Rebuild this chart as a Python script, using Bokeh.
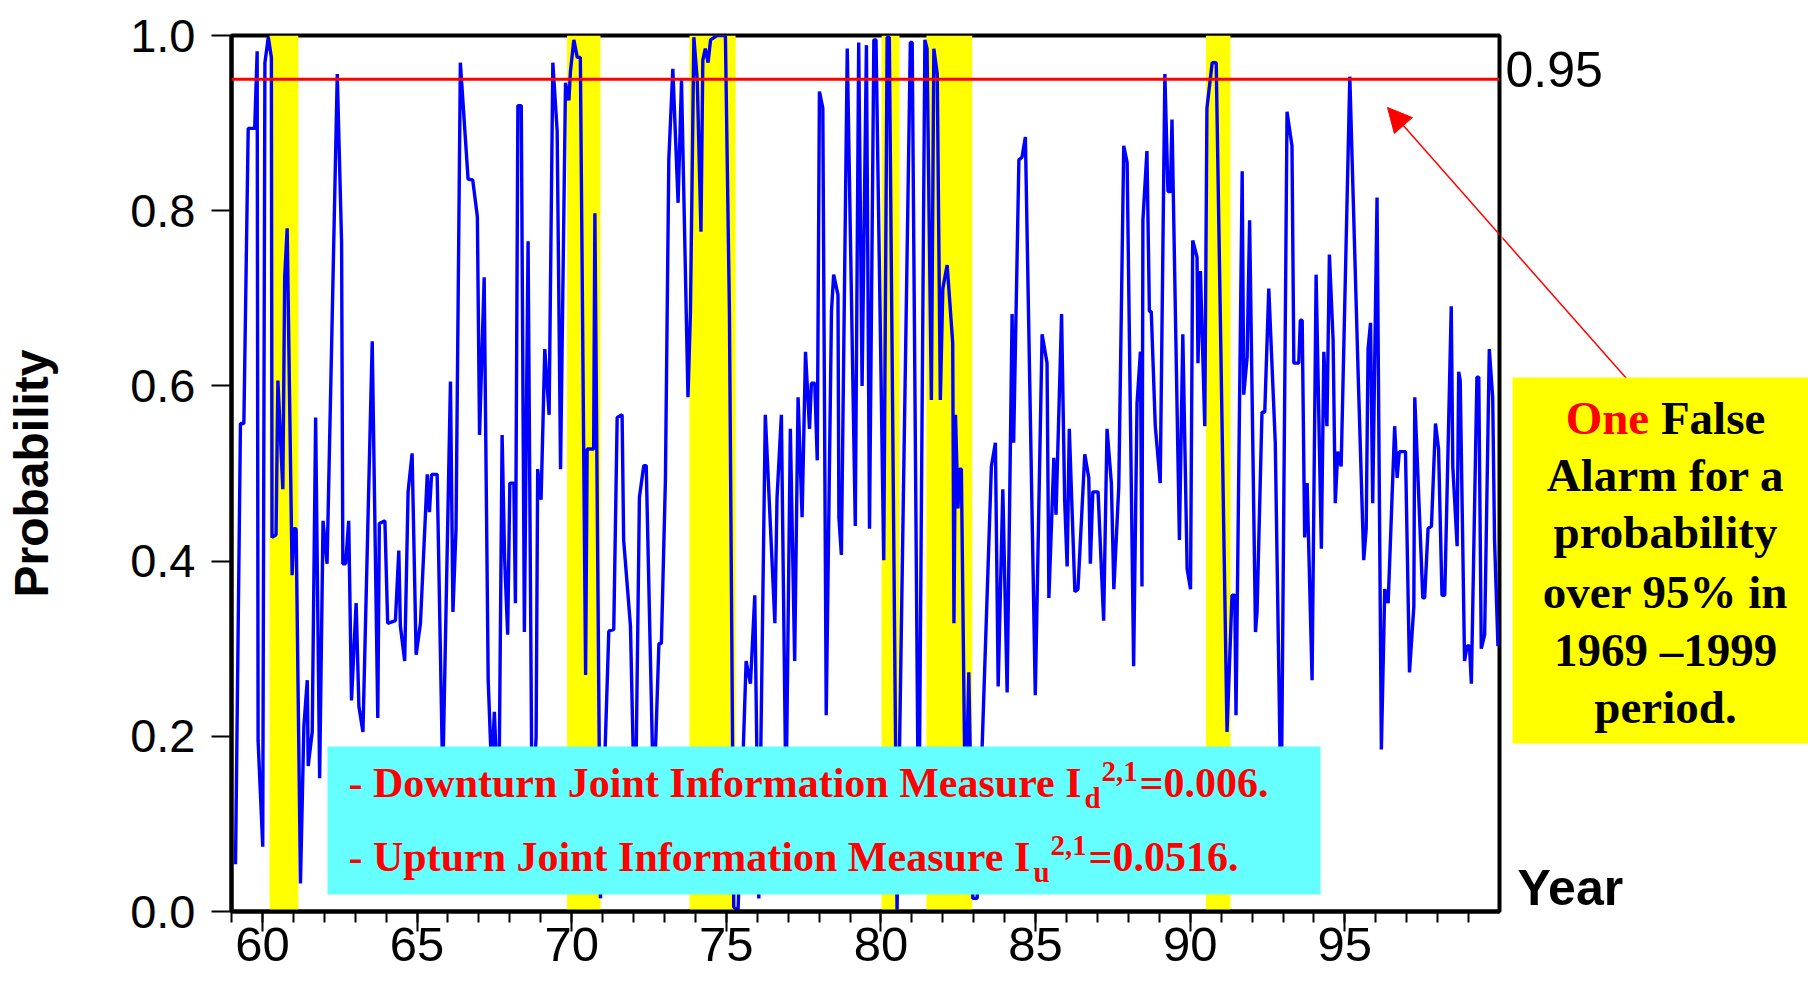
from bokeh.plotting import figure
from bokeh.layouts import row
from bokeh.models import (Range1d, FixedTicker, PrintfTickFormatter, BoxAnnotation,
                          Span, Label, Arrow, NormalHead)
from bokeh.embed import file_html
from bokeh.resources import INLINE

# ---------------- data ----------------
year = [
    59.13, 59.29, 59.40, 59.54, 59.75, 59.83, 59.86, 60.01, 60.08, 60.19,
    60.29, 60.31, 60.44, 60.50, 60.66, 60.72, 60.80, 60.96, 61.02, 61.09,
    61.23, 61.34, 61.45, 61.48, 61.61, 61.72, 61.85, 61.96, 62.09, 62.42,
    62.56, 62.60, 62.69, 62.79, 62.88, 63.03, 63.12, 63.25, 63.55, 63.73,
    63.78, 63.96, 64.05,
    64.30, 64.41, 64.46, 64.60, 64.71, 64.84, 64.97, 65.11, 65.33, 65.40,
    65.47, 65.65, 65.83, 66.08, 66.16, 66.26, 66.40, 66.65, 66.80, 66.95,
    67.02, 67.17, 67.30, 67.41, 67.50, 67.64, 67.75, 67.83, 67.93, 68.00,
    68.13, 68.18, 68.26, 68.37, 68.47, 68.59, 68.72, 68.85, 68.90, 69.01,
    69.13, 69.27,
    69.39, 69.53, 69.64, 69.80, 69.91, 69.96, 70.07, 70.18, 70.28, 70.45,
    70.50, 70.71, 70.75, 70.93, 71.20, 71.36, 71.47, 71.63, 71.68, 71.90,
    72.05, 72.19, 72.33, 72.41, 72.65, 72.82, 72.90, 73.03, 73.14, 73.27,
    73.44, 73.55, 73.76, 73.84, 73.95, 74.06, 74.18, 74.24, 74.32,
    74.41, 74.49, 74.70, 74.97, 75.10, 75.24, 75.38, 75.64, 75.78, 75.92,
    76.05, 76.26, 76.57, 76.64, 76.78, 76.93, 77.07, 77.21, 77.32, 77.45,
    77.56, 77.69, 77.75, 77.86, 77.94, 78.01, 78.12, 78.23, 78.40, 78.47,
    78.61, 78.64, 78.72, 78.91, 79.17, 79.28, 79.39, 79.53,
    79.63, 79.77, 79.84, 80.09, 80.20, 80.27, 80.52, 80.95, 81.01, 81.22,
    81.42, 81.49, 81.63, 81.71, 81.82, 81.92, 82.00, 82.14, 82.32, 82.36,
    82.41, 82.49, 82.54, 82.60, 82.73, 82.84, 82.97, 83.11, 83.57, 83.70,
    83.79, 83.94, 84.08, 84.24, 84.29, 84.46, 84.56, 84.67,
    84.99, 85.21, 85.37, 85.43, 85.59, 85.66, 85.84, 85.94, 86.02, 86.09,
    86.27, 86.37, 86.59, 86.72, 86.77, 86.85, 87.02, 87.20, 87.31, 87.45,
    87.53, 87.69, 87.85, 87.96, 88.17, 88.28, 88.39, 88.44, 88.47, 88.60,
    88.68, 88.74, 88.87, 89.03, 89.18, 89.28, 89.36, 89.41, 89.65, 89.76,
    89.90,
    90.01, 90.08, 90.22, 90.25, 90.33, 90.47, 90.54, 90.71, 90.84, 91.19,
    91.35, 91.44, 91.48, 91.68, 91.73, 91.84, 91.92, 92.11, 92.16, 92.32,
    92.41, 92.54, 92.75, 92.94, 93.13, 93.29, 93.35, 93.51, 93.56, 93.62,
    93.70, 93.78, 93.94, 94.07, 94.24, 94.32, 94.42, 94.50, 94.62, 94.69,
    94.77, 94.88, 95.16,
    95.43, 95.61, 95.69, 95.75, 95.83, 95.90, 96.04, 96.18, 96.29, 96.40,
    96.61, 96.69, 96.76, 96.96, 97.09, 97.23, 97.26, 97.52, 97.58, 97.69,
    97.80, 97.93, 98.03, 98.14, 98.23, 98.44, 98.49, 98.63, 98.68, 98.73,
    98.87, 98.95, 99.03, 99.09, 99.27, 99.33, 99.41, 99.52, 99.67, 99.78,
    99.84, 99.95,
]
prob = [
    0.054, 0.557, 0.557, 0.894, 0.894, 0.982, 0.195, 0.074, 0.969, 0.998,
    0.975, 0.427, 0.430, 0.606, 0.482, 0.724, 0.780, 0.384, 0.437, 0.437,
    0.032, 0.211, 0.264, 0.166, 0.205, 0.564, 0.152, 0.446, 0.397, 0.956,
    0.763, 0.397, 0.397, 0.446, 0.241, 0.352, 0.234, 0.205, 0.651, 0.221,
    0.443, 0.446, 0.329,
    0.332, 0.412, 0.326, 0.286, 0.479, 0.523, 0.293, 0.329, 0.499, 0.456,
    0.499, 0.499, 0.150, 0.605, 0.342, 0.437, 0.969, 0.836, 0.835, 0.793,
    0.544, 0.724, 0.264, 0.160, 0.228, 0.100, 0.544, 0.404, 0.316, 0.489,
    0.489, 0.352, 0.920, 0.920, 0.319, 0.765, 0.100, 0.200, 0.505, 0.470,
    0.642, 0.567,
    0.969, 0.891, 0.505, 0.946, 0.926, 0.959, 0.995, 0.975, 0.975, 0.270,
    0.528, 0.528, 0.797, 0.015, 0.320, 0.322, 0.564, 0.567, 0.424, 0.326,
    0.080, 0.473, 0.509, 0.509, 0.120, 0.306, 0.306, 0.492, 0.858, 0.962,
    0.809, 0.949, 0.587, 0.685, 0.998, 0.949, 0.776, 0.972, 0.985,
    0.969, 0.995, 1.000, 1.000, 0.685, 0.005, 0.002, 0.286, 0.260, 0.361,
    0.015, 0.567, 0.329, 0.473, 0.567, 0.120, 0.551, 0.286, 0.587, 0.450,
    0.639, 0.551, 0.603, 0.603, 0.515, 0.936, 0.917, 0.224, 0.685, 0.727,
    0.704, 0.450, 0.407, 0.985, 0.440, 0.992, 0.600, 0.989,
    0.437, 0.995, 0.995, 0.401, 0.998, 0.998, 0.002, 0.992, 0.992, 0.050,
    0.995, 0.985, 0.584, 0.985, 0.956, 0.584, 0.711, 0.738, 0.649, 0.329,
    0.567, 0.460, 0.505, 0.505, 0.100, 0.273, 0.015, 0.015, 0.508, 0.535,
    0.257, 0.482, 0.250, 0.682, 0.535, 0.858, 0.861, 0.884,
    0.247, 0.659, 0.626, 0.358, 0.518, 0.453, 0.682, 0.469, 0.394, 0.551,
    0.365, 0.368, 0.522, 0.495, 0.397, 0.479, 0.479, 0.332, 0.551, 0.489,
    0.368, 0.485, 0.874, 0.855, 0.280, 0.580, 0.639, 0.371, 0.789, 0.868,
    0.685, 0.685, 0.554, 0.489, 0.956, 0.822, 0.822, 0.904, 0.424, 0.659,
    0.391,
    0.368, 0.766, 0.747, 0.626, 0.731, 0.554, 0.917, 0.969, 0.969, 0.205,
    0.361, 0.361, 0.224, 0.845, 0.590, 0.633, 0.789, 0.319, 0.342, 0.570,
    0.570, 0.711, 0.535, 0.100, 0.913, 0.874, 0.626, 0.626, 0.675, 0.675,
    0.427, 0.489, 0.264, 0.727, 0.414, 0.639, 0.554, 0.750, 0.652, 0.466,
    0.525, 0.508, 0.953,
    0.613, 0.401, 0.437, 0.642, 0.672, 0.466, 0.815, 0.185, 0.368, 0.352,
    0.554, 0.495, 0.525, 0.525, 0.273, 0.348, 0.587, 0.358, 0.358, 0.437,
    0.440, 0.557, 0.528, 0.361, 0.361, 0.691, 0.508, 0.417, 0.616, 0.606,
    0.286, 0.303, 0.303, 0.260, 0.610, 0.610, 0.300, 0.316, 0.642, 0.587,
    0.424, 0.303,
]
recession_start = [60.23, 69.85, 73.81, 80.02, 81.47, 90.51]
recession_end = [61.16, 70.93, 75.30, 80.60, 82.95, 91.30]
alarm_level = 0.95
x_major_ticks = [60, 65, 70, 75, 80, 85, 90, 95]
x_minor_ticks = list(range(59, 100))
y_ticks = [0.0, 0.2, 0.4, 0.6, 0.8, 1.0]

SANS = "Liberation Sans"
SERIF = "Liberation Serif"
RED = "#FF0000"
# vertical shift that puts the alphabetic baseline where wanted (fraction of font size)
BASE_SHIFT = {SANS: 0.3465, SERIF: 0.3375}

# ---------------- main figure (frame: x 231..1499, y 35..911 on the page) ----------------
H = 983
W1 = 1502
p = figure(width=W1, height=H, x_range=Range1d(59, 100), y_range=Range1d(0, 1),
           output_backend="svg", toolbar_location=None, title=None,
           min_border_left=231, min_border_right=3,
           min_border_top=35, min_border_bottom=72)
p.xgrid.visible = False
p.ygrid.visible = False
p.outline_line_color = "black"
p.outline_line_width = 4
p.outline_line_alpha = 1.0
p.background_fill_color = "white"
p.border_fill_color = "white"

# y axis
ya = p.yaxis[0]
ya.ticker = FixedTicker(ticks=y_ticks)
ya.formatter = PrintfTickFormatter(format="%.1f")
ya.major_label_text_font = SANS
ya.major_label_text_font_size = "47px"
ya.major_label_text_color = "black"
ya.major_tick_out = 20
ya.major_tick_in = 0
ya.minor_tick_out = 0
ya.minor_tick_in = 0
ya.major_tick_line_width = 2
ya.major_tick_line_color = "black"
ya.axis_line_width = 4
ya.axis_line_color = "black"
ya.major_label_standoff = 16
ya.axis_label = "Probability"
ya.axis_label_text_font = SANS
ya.axis_label_text_font_size = "48px"
ya.axis_label_text_font_style = "bold"
ya.axis_label_text_color = "black"
ya.axis_label_standoff = 69

# x axis
xa = p.xaxis[0]
xa.ticker = FixedTicker(ticks=x_major_ticks, minor_ticks=x_minor_ticks)
xa.major_label_text_font = SANS
xa.major_label_text_font_size = "49px"
xa.major_label_text_color = "black"
xa.major_tick_out = 20
xa.major_tick_in = 0
xa.minor_tick_out = 11
xa.minor_tick_in = 0
xa.major_tick_line_width = 2
xa.minor_tick_line_width = 2
xa.major_tick_line_color = "black"
xa.minor_tick_line_color = "black"
xa.axis_line_width = 4
xa.axis_line_color = "black"
xa.major_label_standoff = -4

# recession bands
for s, e in zip(recession_start, recession_end):
    p.add_layout(BoxAnnotation(left=s, right=e, fill_color="#FFFF00", fill_alpha=1.0,
                               line_color=None, level="underlay"))

# probability line
p.line(year, prob, line_color="#0000FF", line_width=3.4)

# 95% threshold
p.add_layout(Span(location=alarm_level, dimension="width", line_color=RED, line_width=3))


# helpers: page pixel -> data coordinate of the main frame
def X(px):
    return 59 + (px - 231) * 41.0 / 1268.0


def Y(py):
    return (911 - py) / 876.0


def lab(fig, xpx, ybase, text, size, color="black", font=SANS, style="normal",
        align="left", main=True):
    yy = ybase - BASE_SHIFT[font] * size
    x = X(xpx) if main else xpx
    y = Y(yy) if main else yy
    fig.add_layout(Label(x=x, y=y, text=text, text_font=font,
                         text_font_size=f"{size}px", text_font_style=style,
                         text_color=color, text_align=align, text_baseline="alphabetic"))


# cyan information box
p.add_layout(BoxAnnotation(left=X(327), right=X(1320), top=Y(746), bottom=Y(894),
                           fill_color="#66FFFF", fill_alpha=1.0, line_color=None))
lab(p, 348, 797, "- Downturn Joint Information Measure I", 42, RED, SERIF, "bold")
lab(p, 1084, 807, "d", 29, RED, SERIF, "bold")
lab(p, 1101, 781, "2,1", 29, RED, SERIF, "bold")
lab(p, 1139, 797, "=0.006.", 42, RED, SERIF, "bold")
lab(p, 348, 871, "- Upturn Joint Information Measure I", 42, RED, SERIF, "bold")
lab(p, 1033, 881, "u", 29, RED, SERIF, "bold")
lab(p, 1050, 855, "2,1", 29, RED, SERIF, "bold")
lab(p, 1088, 871, "=0.0516.", 42, RED, SERIF, "bold")

# arrow (the part inside the main frame, with its head)
p.add_layout(Arrow(end=NormalHead(size=24, fill_color=RED, line_color=RED, line_width=1),
                   x_start=X(1626), y_start=Y(378), x_end=X(1387), y_end=Y(107),
                   line_color=RED, line_width=1.5))

# ---------------- right-hand note panel (page pixel coordinates) ----------------
W2 = 1808 - W1
q = figure(width=W2, height=H, x_range=Range1d(W1, 1808), y_range=Range1d(911, 35),
           output_backend="svg", toolbar_location=None, title=None,
           x_axis_location=None, y_axis_location=None,
           min_border_left=0, min_border_right=0, min_border_top=35, min_border_bottom=72)
q.outline_line_color = None
q.background_fill_color = "white"
q.border_fill_color = "white"
q.xgrid.visible = False
q.ygrid.visible = False

q.add_layout(Arrow(end=None, x_start=1626, y_start=378, x_end=1387, y_end=107,
                   line_color=RED, line_width=1.5))
q.add_layout(BoxAnnotation(left=1512, right=1808, top=377, bottom=743,
                           fill_color="#FFFF00", fill_alpha=1.0, line_color=None))
lab(q, 1505, 86, "0.95", 50, main=False)
lab(q, 1517, 905, "Year", 50, style="bold", main=False)
lab(q, 1648.7, 433, "One", 47, RED, SERIF, "bold", "right", main=False)
lab(q, 1660.4, 433, "False", 47, "black", SERIF, "bold", "left", main=False)
lab(q, 1665, 490, "Alarm for a", 47, "black", SERIF, "bold", "center", main=False)
lab(q, 1665, 547, "probability", 47, "black", SERIF, "bold", "center", main=False)
lab(q, 1665, 607, "over 95% in", 47, "black", SERIF, "bold", "center", main=False)
lab(q, 1665, 665, "1969 \u20131999", 47, "black", SERIF, "bold", "center", main=False)
lab(q, 1665, 722, "period.", 47, "black", SERIF, "bold", "center", main=False)

page = row(p, q, spacing=0)
open("out.html", "w").write(file_html(page, INLINE))
